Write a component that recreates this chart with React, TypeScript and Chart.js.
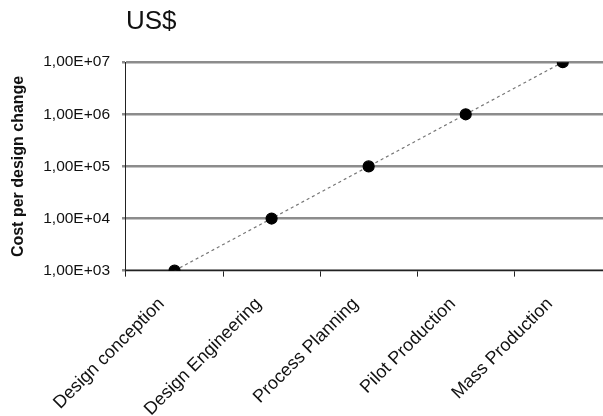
import React, { useEffect, useRef } from "react";
import { Chart, registerables } from "chart.js";

Chart.register(...registerables);

const categories = [
  "Design conception",
  "Design Engineering",
  "Process Planning",
  "Pilot Production",
  "Mass Production",
];
const costPerChange = [1e3, 1e4, 1e5, 1e6, 1e7];
const yTicks = [1e3, 1e4, 1e5, 1e6, 1e7];
const titleText = "US$";
const yTitle = "Cost per design change";

function fmt(v: number): string {
  const e = Math.round(Math.log10(v));
  const m = v / Math.pow(10, e);
  return m.toFixed(2).replace(".", ",") + "E+" + String(e).padStart(2, "0");
}

export default function App() {
  const ref = useRef<HTMLCanvasElement | null>(null);
  useEffect(() => {
    document.body.style.margin = "0";
    document.body.style.overflow = "hidden";
    document.documentElement.style.overflow = "hidden";
    const ctx = ref.current!;
    const chart = new Chart(ctx, {
      type: "line",
      data: {
        labels: categories,
        datasets: [
          {
            data: costPerChange,
            borderColor: "#777",
            borderWidth: 1.2,
            borderDash: [3, 3],
            pointBackgroundColor: "#000",
            pointBorderColor: "#000",
            pointRadius: 5.5,
            pointStyle: "circle",
          },
        ],
      },
      options: {
        responsive: false,
        animation: false,
        layout: { padding: { left: 9, right: 0, top: 6, bottom: -13 } },
        plugins: {
          legend: { display: false },
          tooltip: { enabled: false },
          title: {
            display: true,
            text: titleText,
            align: "start",
            fullSize: false,
            color: "#111",
            font: { family: "Liberation Sans", size: 26, weight: "normal" },
            padding: { top: 0, bottom: 25 },
          },
        },
        scales: {
          x: {
            type: "category",
            offset: true,
            grid: {
              offset: true,
              drawOnChartArea: false,
              drawTicks: true,
              tickLength: 6,
              color: "#222",
            },
            border: { display: true, color: "#222", width: 1 },
            ticks: {
              minRotation: 45,
              maxRotation: 45,
              color: "#111",
              padding: 17,
              labelOffset: -13,
              font: { family: "Liberation Sans", size: 18 },
            },
          },
          y: {
            type: "logarithmic",
            min: 1e3,
            max: 1e7,
            afterBuildTicks: (axis: any) => {
              axis.ticks = yTicks.map((v) => ({ value: v }));
            },
            grid: {
              color: "#8c8c8c",
              lineWidth: 2.5,
              drawTicks: true,
              tickLength: 4,
            },
            border: { display: true, color: "#222", width: 1 },
            ticks: {
              color: "#111",
              padding: 12,
              font: { family: "Liberation Sans", size: 15.5 },
              callback: (v: any) => fmt(Number(v)),
            },
            title: {
              display: true,
              text: yTitle,
              color: "#111",
              font: { family: "Liberation Sans", size: 16, weight: "bold" },
              padding: { top: 0, bottom: 3 },
            },
          },
        },
      },
    });
    return () => chart.destroy();
  }, []);
  return <canvas ref={ref} width={618} height={424} style={{ display: "block" }} />;
}
